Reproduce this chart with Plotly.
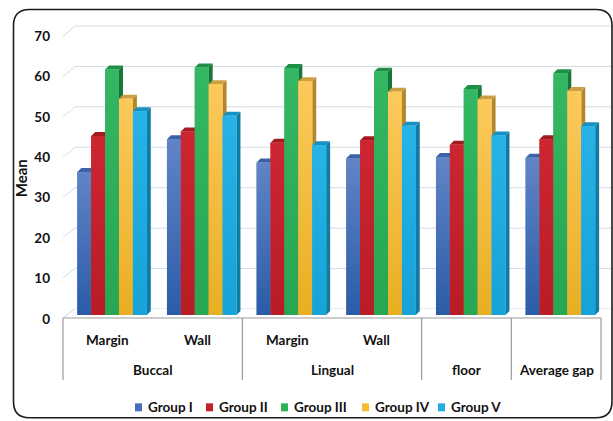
import plotly.graph_objects as go

# ---- data -------------------------------------------------------------
regions = ["Buccal", "Buccal", "Lingual", "Lingual", "floor", "Average gap"]
sites = ["Margin", "Wall", "Margin", "Wall", "", ""]
groups = ["Group I", "Group II", "Group III", "Group IV", "Group V"]

group_i = [35.4, 43.5, 37.7, 38.8, 39.1, 38.9]
group_ii = [44.3, 45.4, 42.6, 43.2, 42.1, 43.5]
group_iii = [60.7, 61.2, 61.1, 60.2, 55.9, 59.8]
group_iv = [53.5, 57.1, 57.8, 55.2, 53.3, 55.4]
group_v = [50.4, 49.3, 42.0, 46.8, 44.4, 46.7]
series = [group_i, group_ii, group_iii, group_iv, group_v]

y_ticks = [0, 10, 20, 30, 40, 50, 60, 70]

# ---- styling ----------------------------------------------------------
front_colors = ["#4571bb", "#c62029", "#2eb05b", "#f6be30", "#1fade2"]
top_colors = ["#6184c6", "#cc2631", "#34b763", "#fdc95c", "#27b3e6"]
bottom_colors = ["#2b5ca8", "#b91c25", "#27a654", "#e8af22", "#17a2d8"]
side_colors = ["#2c4f8c", "#8d181d", "#17773a", "#b2862b", "#137aa3"]
cap_colors = ["#3b62a6", "#a11b21", "#1f8f46", "#caa043", "#1790c2"]
FONT = "Lato"

W, H = 613, 421
L, R, T, B = 63, 12, 31.5, 106
PW, PH = W - L - R, H - T - B
X_MIN, X_MAX = -0.5, 5.5
Y_MAX = 70
ux = (X_MAX - X_MIN) / PW      # x units per pixel
uy = Y_MAX / PH                # y units per pixel


def paper(px, py):
    """Pixel position in the figure -> paper coordinates."""
    return (px - L) / PW, (H - B - py) / PH


def cat_px(x):
    """Category coordinate -> horizontal pixel."""
    return L + (x - X_MIN) / ux


bar_w = 13.9 * ux
first_off = X_MIN + (77.3 - L) * ux
depth_dx, depth_dy = 4 * ux, 4 * uy
xs = list(range(len(regions)))

fig = go.Figure()
for k, (name, vals) in enumerate(zip(groups, series)):
    fig.add_trace(go.Bar(
        x=xs, y=vals, name=name,
        width=bar_w, offset=first_off + k * bar_w,
        marker=dict(color=front_colors[k], line=dict(width=0)),
        showlegend=False,
    ))

# shaded front faces: each column gets a vertical gradient from its base to its top
for k, vals in enumerate(series):
    for i in xs:
        v = vals[i]
        xl = i + first_off + k * bar_w
        xr = xl + bar_w
        fig.add_trace(go.Scatter(
            x=[xl, xr, xr, xl, xl], y=[0, 0, v, v, 0],
            mode="lines", line=dict(width=0), fill="toself",
            fillgradient=dict(type="vertical", start=0, stop=v,
                              colorscale=[[0, bottom_colors[k]], [1, top_colors[k]]]),
            hoverinfo="skip", showlegend=False,
        ))

shapes = []

# back wall gridlines with the short perspective run on the left
for v in y_ticks:
    yf = 318 - v * 4.03
    yb = 309 - v * 4.05
    x0, y0 = paper(63, yf)
    x1, y1 = paper(75, yb)
    x2, y2 = paper(613, yb)
    shapes.append(dict(type="path", xref="paper", yref="paper", layer="below",
                       path=f"M{x0},{y0} L{x1},{y1} L{x2},{y2}",
                       line=dict(color="#d3dce6", width=1)))

# floor
f = [paper(63, 318), paper(75, 309), paper(613, 309), paper(601, 318)]
shapes.append(dict(type="path", xref="paper", yref="paper", layer="below",
                   path="M" + " L".join(f"{a},{b}" for a, b in f) + " Z",
                   fillcolor="white", line=dict(width=0)))
a0, b0 = paper(63, 318)
a1, b1 = paper(75, 309)
shapes.append(dict(type="line", xref="paper", yref="paper", layer="below",
                   x0=a0, y0=b0, x1=a1, y1=b1,
                   line=dict(color="#d3dce6", width=1)))

# side faces and top caps of the columns
for i in xs:
    for k, vals in enumerate(series):
        v = vals[i]
        xl = i + first_off + k * bar_w
        xr = xl + bar_w
        side = (f"M{xr},0 L{xr + depth_dx},{depth_dy} "
                f"L{xr + depth_dx},{v + depth_dy} L{xr},{v} Z")
        cap = (f"M{xl},{v} L{xl + depth_dx},{v + depth_dy} "
               f"L{xr + depth_dx},{v + depth_dy} L{xr},{v} Z")
        shapes.append(dict(type="path", xref="x", yref="y", layer="below",
                           path=side, fillcolor=side_colors[k], line=dict(width=0)))
        shapes.append(dict(type="path", xref="x", yref="y", layer="below",
                           path=cap, fillcolor=cap_colors[k], line=dict(width=0)))

# category table under the plot
tx0, ty0 = paper(63, 318)
tx1, _ = paper(601, 318)
shapes.append(dict(type="line", xref="paper", yref="paper",
                   x0=tx0, y0=ty0, x1=tx1, y1=ty0,
                   line=dict(color="#9a9a9a", width=1.2)))
bounds = [X_MIN] + [i + 0.5 for i in range(len(regions) - 1)
                    if regions[i] != regions[i + 1]] + [X_MAX]
for bx in bounds:
    px = cat_px(bx)
    x0, y0 = paper(px, 318)
    _, y1 = paper(px, 380)
    shapes.append(dict(type="line", xref="paper", yref="paper",
                       x0=x0, y0=y0, x1=x0, y1=y1,
                       line=dict(color="#9a9a9a", width=1.2)))

# outer rounded frame
bx0, by0, bx1, by1, rr = 13.5, 9, 612, 418, 16
pts = [("M", bx0 + rr, by0), ("L", bx1 - rr, by0), ("Q", bx1, by0, bx1, by0 + rr),
       ("L", bx1, by1 - rr), ("Q", bx1, by1, bx1 - rr, by1), ("L", bx0 + rr, by1),
       ("Q", bx0, by1, bx0, by1 - rr), ("L", bx0, by0 + rr), ("Q", bx0, by0, bx0 + rr, by0)]
seg = []
for p in pts:
    cmd, coords = p[0], p[1:]
    conv = []
    for j in range(0, len(coords), 2):
        a, b = paper(coords[j], coords[j + 1])
        conv.append(f"{a},{b}")
    seg.append(cmd + " ".join(conv))
shapes.append(dict(type="path", xref="paper", yref="paper",
                   path=" ".join(seg) + " Z",
                   line=dict(color="#1c1c1c", width=1.6)))

# manual legend squares
legend_x = [135, 206, 281, 362, 438]
for k, lx in enumerate(legend_x):
    x0, y0 = paper(lx, 411.5)
    x1, y1 = paper(lx + 7, 403.5)
    shapes.append(dict(type="rect", xref="paper", yref="paper",
                       x0=x0, y0=y0, x1=x1, y1=y1,
                       fillcolor=front_colors[k], line=dict(width=0)))

annotations = []
label_font = dict(family=FONT, size=13.5, color="#111111", weight="bold")
_, y_site = paper(0, 340)
_, y_region = paper(0, 370)
for i, s in enumerate(sites):
    if s:
        annotations.append(dict(x=i, y=y_site, xref="x", yref="paper", text=s,
                                xanchor="center", yanchor="middle",
                                showarrow=False, font=label_font))
seen = []
for r in regions:
    if r not in seen:
        seen.append(r)
for r in seen:
    idx = [i for i, q in enumerate(regions) if q == r]
    annotations.append(dict(x=sum(idx) / len(idx), y=y_region, xref="x", yref="paper",
                            text=r, xanchor="center", yanchor="middle",
                            showarrow=False, font=label_font))
for k, lx in enumerate(legend_x):
    x0, y0 = paper(lx + 10.5, 407.5)
    annotations.append(dict(x=x0, y=y0, xref="paper", yref="paper", text=groups[k],
                            xanchor="left", yanchor="middle",
                            showarrow=False, font=label_font))
mx, my = paper(21, 178)
annotations.append(dict(x=mx, y=my, xref="paper", yref="paper", text="Mean",
                        textangle=-90, xanchor="center", yanchor="middle",
                        showarrow=False,
                        font=dict(family=FONT, size=15, color="#111111", weight="bold")))

fig.update_layout(
    width=W, height=H, autosize=False,
    margin=dict(l=L, r=R, t=T, b=B, pad=0),
    paper_bgcolor="white", plot_bgcolor="rgba(0,0,0,0)",
    barmode="overlay",
    shapes=shapes, annotations=annotations,
    xaxis=dict(range=[X_MIN, X_MAX], visible=False),
    yaxis=dict(range=[0, Y_MAX], tickvals=y_ticks, showgrid=False, zeroline=False,
               showline=False, ticks="", ticklabelstandoff=12, ticklabelshift=4,
               tickfont=dict(family=FONT, size=13.5, color="#111111", weight="bold")),
)

fig.write_html("out.html")
